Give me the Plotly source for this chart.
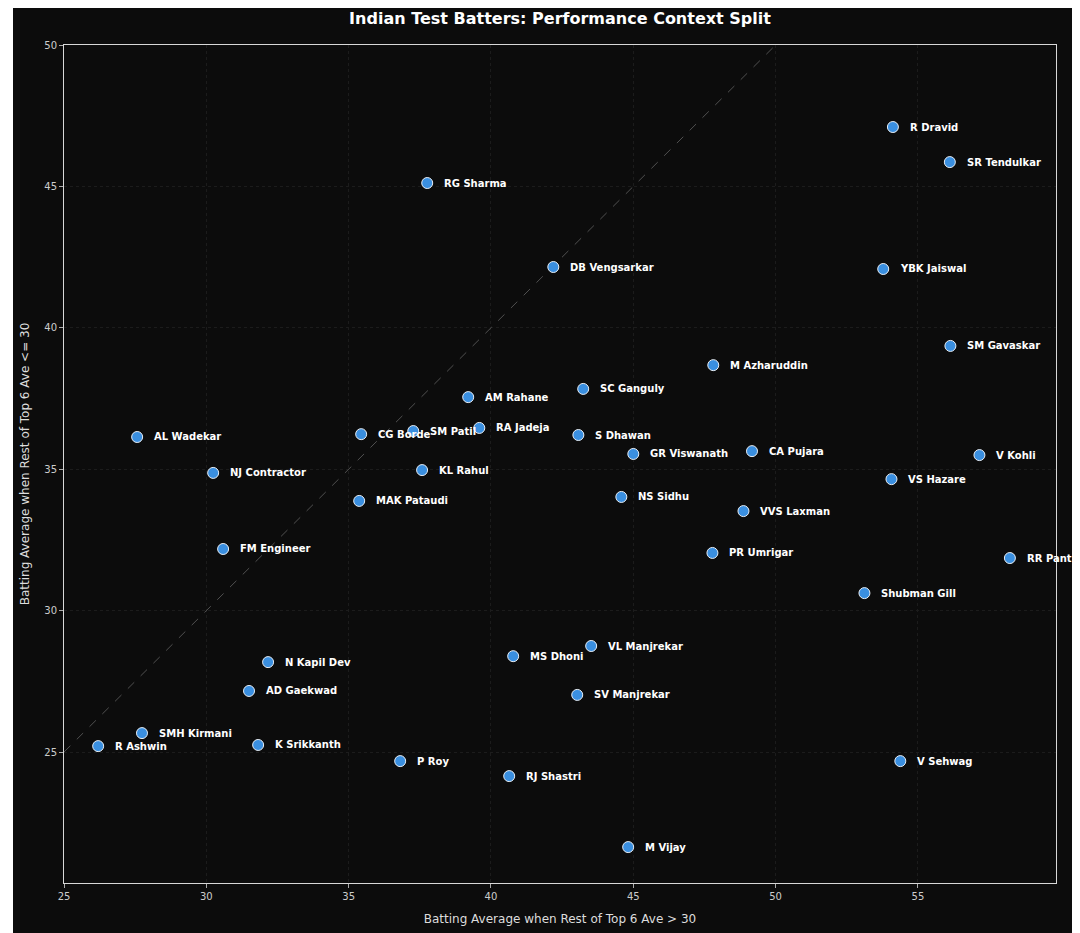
import plotly.graph_objects as go

# batting averages: x = when rest of top 6 ave > 30, y = when rest of top 6 ave <= 30
players = [
    "R Dravid", "SR Tendulkar", "RG Sharma", "DB Vengsarkar", "YBK Jaiswal",
    "SM Gavaskar", "M Azharuddin", "SC Ganguly", "AM Rahane", "RA Jadeja",
    "SM Patil", "CG Borde", "S Dhawan", "AL Wadekar", "GR Viswanath",
    "CA Pujara", "V Kohli", "KL Rahul", "NJ Contractor", "VS Hazare",
    "NS Sidhu", "MAK Pataudi", "VVS Laxman", "FM Engineer", "PR Umrigar",
    "RR Pant", "Shubman Gill", "VL Manjrekar", "N Kapil Dev", "MS Dhoni",
    "AD Gaekwad", "SV Manjrekar", "SMH Kirmani", "R Ashwin", "K Srikkanth",
    "P Roy", "V Sehwag", "RJ Shastri", "M Vijay",
]
ave_strong = [
    54.12, 56.12, 37.76, 42.19, 53.78,
    56.14, 47.81, 43.24, 39.20, 39.59,
    37.27, 35.44, 43.07, 27.57, 45.00,
    49.17, 57.16, 37.58, 30.24, 54.07,
    44.58, 35.37, 48.87, 30.59, 47.78,
    58.23, 53.12, 43.52, 32.17, 40.78,
    31.50, 43.03, 27.74, 26.20, 31.82,
    36.81, 54.38, 40.64, 44.82,
]
ave_weak = [
    47.10, 45.86, 45.12, 42.15, 42.08,
    39.36, 38.68, 37.84, 37.55, 36.46,
    36.35, 36.24, 36.21, 36.14, 35.54,
    35.64, 35.50, 34.97, 34.87, 34.65,
    34.02, 33.88, 33.52, 32.18, 32.04,
    31.86, 30.62, 28.75, 28.18, 28.39,
    27.16, 27.02, 25.67, 25.21, 25.25,
    24.68, 24.68, 24.15, 21.64,
]

x_lim = [25, 59.85]
y_lim = [20.37, 50]
ticks = [25, 30, 35, 40, 45, 50, 55]

bg = "#0c0c0c"
font = "DejaVu Sans"

# plot area in figure pixels (page adds 8px body margin)
L, T, W, H = 56, 37, 992, 838

fig = go.Figure()

# y = x reference line across the visible square
lo = max(x_lim[0], y_lim[0])
hi = min(x_lim[1], y_lim[1])
fig.add_trace(go.Scatter(
    x=[lo, hi], y=[lo, hi], mode="lines",
    line=dict(color="#505050", width=1, dash="dash"),
    hoverinfo="skip", showlegend=False,
))

fig.add_trace(go.Scatter(
    x=ave_strong, y=ave_weak, mode="markers",
    marker=dict(size=11, color="#3a8fe0", line=dict(color="#e8eef5", width=1)),
    text=players, hovertemplate="%{text}<br>%{x:.2f} / %{y:.2f}<extra></extra>",
    showlegend=False,
))

for name, xv, yv in zip(players, ave_strong, ave_weak):
    fig.add_annotation(
        x=xv, y=yv, text="<b>" + name + "</b>", showarrow=False,
        xanchor="left", yanchor="middle", xshift=15,
        font=dict(family=font, size=10, color="#ffffff"),
    )

# dark figure background with the thin white strip at left, as in the original
fig.add_shape(
    type="rect", xref="paper", yref="paper", layer="below",
    x0=(5 - L) / W, x1=(1080 - L) / W,
    y0=(T + H - 933) / H, y1=(T + H) / H,
    fillcolor=bg, line=dict(width=0),
)

axis_common = dict(
    showline=True, linecolor="#d8d8d8", linewidth=1, mirror=True,
    ticks="outside", ticklen=4, tickcolor="#aaaaaa", tickwidth=1,
    tickfont=dict(family=font, size=10, color="#cccccc"),
    showgrid=True, gridcolor="#1c1c1c", gridwidth=1, griddash="dot",
    zeroline=False, tickvals=ticks,
)

fig.update_xaxes(
    range=x_lim, **axis_common,
    title=dict(text="Batting Average when Rest of Top 6 Ave > 30",
               font=dict(family=font, size=12, color="#dddddd"), standoff=13),
)
fig.update_yaxes(
    range=y_lim, **axis_common,
    title=dict(text="Batting Average when Rest of Top 6 Ave <= 30",
               font=dict(family=font, size=12, color="#dddddd"), standoff=12),
)

fig.update_layout(
    width=1080, height=933,
    margin=dict(l=L, r=1080 - L - W, t=T, b=933 - T - H),
    paper_bgcolor="#ffffff", plot_bgcolor=bg,
    title=dict(text="<b>Indian Test Batters: Performance Context Split</b>",
               x=0.5, xref="paper", y=1 - 10 / 933, yanchor="middle",
               font=dict(family=font, size=16, color="#ffffff")),
)

fig.write_html("out.html")
